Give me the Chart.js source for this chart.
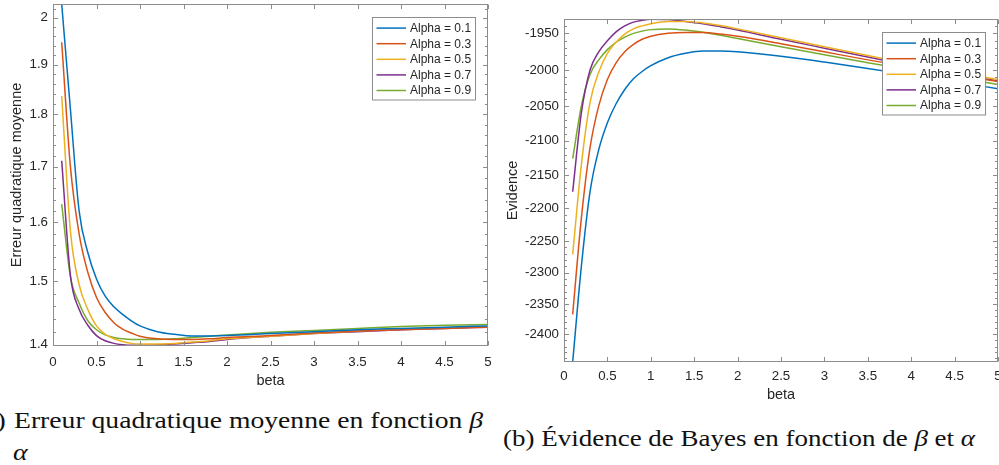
<!DOCTYPE html>
<html>
<head>
<meta charset="utf-8">
<script src="https://cdn.jsdelivr.net/npm/chart.js@4"></script>
<style>
    html, body { margin: 0; padding: 0; background: #fff; overflow: hidden; width: 999px; height: 465px; }
    canvas { position: absolute; top: 0; }
    #mseChart { left: 0; }
    #evChart { left: 500px; }
    .cap { position: absolute; font-family: "Liberation Serif", "Times New Roman", serif; font-size: 23px; line-height: 1; color: #111; white-space: nowrap; transform-origin: 0 0; }
</style>
</head>
<body>
<canvas id="mseChart" width="500" height="395"></canvas>
<canvas id="evChart" width="510" height="410"></canvas>
<span class="cap" id="capA0" style="top:409px">(a)</span>
<span class="cap" id="capA1" style="left:14px;top:409px">Erreur quadratique moyenne en fonction <i>β</i></span>
<span class="cap" id="capA2" style="left:13px;top:441px"><i>α</i></span>
<span class="cap" id="capB" style="left:503px;top:427px">(b) Évidence de Bayes en fonction de <i>β</i> et <i>α</i></span>
<script>
(function () {
    "use strict";

    var betas = [0.1, 0.2, 0.3, 0.4, 0.5, 0.6, 0.7, 0.8, 0.9, 1.0, 1.2, 1.4, 1.6, 1.8, 2.0, 2.5, 3, 3.5, 4, 4.5, 5];
    var alphaLabels = ["Alpha = 0.1", "Alpha = 0.3", "Alpha = 0.5", "Alpha = 0.7", "Alpha = 0.9"];

    // (a) erreur quadratique moyenne
    var mseAlpha01 = [2.03, 1.81, 1.62, 1.548, 1.504, 1.476, 1.459, 1.447, 1.437, 1.429, 1.420, 1.416, 1.4135, 1.4135, 1.414, 1.417, 1.420, 1.423, 1.425, 1.427, 1.429];
    var mseAlpha03 = [1.947, 1.70, 1.58, 1.515, 1.474, 1.450, 1.434, 1.424, 1.418, 1.413, 1.409, 1.408, 1.408, 1.409, 1.411, 1.414, 1.418, 1.421, 1.423, 1.425, 1.427];
    var mseAlpha05 = [1.836, 1.585, 1.495, 1.455, 1.429, 1.416, 1.409, 1.405, 1.402, 1.401, 1.401, 1.402, 1.404, 1.406, 1.409, 1.413, 1.417, 1.421, 1.424, 1.426, 1.428];
    var mseAlpha07 = [1.711, 1.51, 1.455, 1.430, 1.414, 1.406, 1.402, 1.400, 1.399, 1.399, 1.3995, 1.401, 1.403, 1.405, 1.408, 1.413, 1.417, 1.420, 1.423, 1.425, 1.427];
    var mseAlpha09 = [1.632, 1.508, 1.465, 1.437, 1.423, 1.415, 1.411, 1.409, 1.408, 1.408, 1.408, 1.409, 1.411, 1.413, 1.415, 1.419, 1.422, 1.425, 1.428, 1.430, 1.431];
    var mseTicks = [1.4, 1.5, 1.6, 1.7, 1.8, 1.9, 2];

    // (b) evidence de Bayes
    var evAlpha01 = [-2446, -2290, -2175, -2113, -2074, -2047, -2027, -2012, -2002, -1994, -1983, -1977, -1974, -1974, -1975, -1981, -1989, -1998, -2007, -2016, -2026];
    var evAlpha03 = [-2367, -2215, -2110, -2050, -2013, -1990, -1975, -1965, -1958, -1954, -1950, -1948.8, -1949, -1951, -1954, -1964, -1975, -1986, -1996, -2006, -2016];
    var evAlpha05 = [-2271, -2135, -2045, -2003, -1977, -1962, -1951, -1944, -1940, -1937, -1934, -1934, -1936, -1939.5, -1944, -1956, -1968, -1980, -1992, -2003, -2013];
    var evAlpha07 = [-2175, -2060, -2000, -1975, -1960, -1948, -1940, -1935, -1932.5, -1931, -1931.5, -1934, -1937, -1941, -1945.5, -1958, -1970, -1982, -1994, -2005, -2015];
    var evAlpha09 = [-2126, -2050, -2006, -1986, -1972, -1962, -1955, -1950, -1947, -1945, -1944, -1945.5, -1948.5, -1952.5, -1957, -1968, -1979, -1990, -2000, -2010, -2020];
    var evTicks = [-1950, -2000, -2050, -2100, -2150, -2200, -2250, -2300, -2350, -2400];

    var lineColors = ["#0072BD", "#D95319", "#EDB120", "#7E2F8E", "#77AC30"];
    var textColor = "#262626";
    var boxColor = "#8c8c8c";

    Chart.defaults.font.family = "'Liberation Sans', Arial, sans-serif";
    Chart.defaults.color = textColor;

    function makeSets(series, toY) {
        return series.map(function (vals, i) {
            return {
                label: alphaLabels[i],
                data: vals.map(function (v, k) { return { x: betas[k], y: toY(v) }; }),
                borderColor: lineColors[i],
                backgroundColor: lineColors[i],
                borderWidth: 1.5,
                pointRadius: 0,
                fill: false,
                cubicInterpolationMode: "monotone"
            };
        });
    }

    function hline(ctx, x1, y1, x2, y2) {
        ctx.beginPath();
        ctx.moveTo(x1, y1);
        ctx.lineTo(x2, y2);
        ctx.stroke();
    }

    // matlab style box, inward ticks and legend inside the axes
    var matlabBox = {
        id: "matlabBox",
        afterDraw: function (chart, args, opts) {
            var ctx = chart.ctx;
            var a = chart.chartArea;
            var x = chart.scales.x, y = chart.scales.y;
            var L = Math.round(a.left) + 0.5, R = Math.round(a.right) - 0.5;
            var T = Math.round(a.top) + 0.5, B = Math.round(a.bottom) - 0.5;
            ctx.save();
            ctx.strokeStyle = boxColor;
            ctx.lineWidth = 1;
            ctx.strokeRect(L, T, R - L, B - T);
            x.ticks.forEach(function (t) {
                var px = Math.round(x.getPixelForValue(t.value)) + 0.5;
                hline(ctx, px, B, px, B - 4.5);
                hline(ctx, px, T, px, T + 4.5);
            });
            y.ticks.forEach(function (t) {
                var py = Math.round(y.getPixelForValue(t.value)) + 0.5;
                hline(ctx, L, py, L + 4.5, py);
                hline(ctx, R, py, R - 4.5, py);
            });
            opts.minor.forEach(function (v) {
                var py = Math.round(y.getPixelForValue(v)) + 0.5;
                if (py < T || py > B) return;
                hline(ctx, L, py, L + 2.5, py);
                hline(ctx, R, py, R - 2.5, py);
            });

            // legend
            var bw = 103, bh = 82.5;
            var bx = Math.round(a.right - 13 - bw) + 0.5;
            var by = Math.round(a.top + 13) + 0.5;
            ctx.fillStyle = "#fff";
            ctx.fillRect(bx, by, bw, bh);
            ctx.strokeStyle = boxColor;
            ctx.strokeRect(bx, by, bw, bh);
            ctx.font = "12px 'Liberation Sans', Arial, sans-serif";
            ctx.textBaseline = "middle";
            ctx.textAlign = "left";
            chart.data.datasets.forEach(function (ds, i) {
                var ry = by + 10.6 + i * 15.6;
                ctx.strokeStyle = ds.borderColor;
                ctx.lineWidth = 1.5;
                hline(ctx, bx + 4, ry, bx + 33.5, ry);
                ctx.fillStyle = textColor;
                ctx.fillText(ds.label, bx + 37.5, ry + 0.5);
            });
            ctx.restore();
        }
    };

    var tickFont = { size: 13.3 };
    var titleFont = { size: 14.5 };

    var mseMinor = [];
    for (var m = 140; m <= 202; m += 2) mseMinor.push(m / 100);
    var evMinor = [];
    for (var e = 1940; e <= 2440; e += 10) evMinor.push(e);

    function fitX(h) {
        return function (s) { s.height = h; s.paddingLeft = 0; s.paddingRight = 0; };
    }
    function fitY(w) {
        return function (s) { s.width = w; s.paddingTop = 0; s.paddingBottom = 0; };
    }
    function betaLabel(v) {
        return String(Math.round(v * 10) / 10);
    }

    new Chart(document.getElementById("mseChart"), {
        type: "line",
        data: { datasets: makeSets([mseAlpha01, mseAlpha03, mseAlpha05, mseAlpha07, mseAlpha09], function (v) { return v; }) },
        options: {
            responsive: false,
            animation: false,
            layout: { padding: { top: 4, right: 12, left: 0, bottom: 0 } },
            scales: {
                x: {
                    type: "linear",
                    min: 0,
                    max: 5,
                    ticks: { stepSize: 0.5, padding: 8, font: tickFont, color: textColor, maxRotation: 0, callback: betaLabel },
                    grid: { display: false, drawTicks: false },
                    border: { display: false },
                    title: { display: true, text: "beta", font: titleFont, color: textColor, padding: { top: 0, bottom: 5 } },
                    afterFit: fitX(49)
                },
                y: {
                    type: "logarithmic",
                    min: 1.398,
                    max: 2.03,
                    afterBuildTicks: function (s) { s.ticks = mseTicks.map(function (v) { return { value: v }; }); },
                    ticks: { padding: 5, autoSkip: false, font: tickFont, color: textColor, callback: function (v) { return String(v); } },
                    grid: { display: false, drawTicks: false },
                    border: { display: false },
                    title: { display: true, text: "Erreur quadratique moyenne", font: titleFont, color: textColor, padding: { top: 8, bottom: 0 } },
                    afterFit: fitY(53)
                }
            },
            plugins: {
                legend: { display: false },
                tooltip: { enabled: false },
                matlabBox: { minor: mseMinor }
            }
        },
        plugins: [matlabBox]
    });

    new Chart(document.getElementById("evChart"), {
        type: "line",
        data: { datasets: makeSets([evAlpha01, evAlpha03, evAlpha05, evAlpha07, evAlpha09], function (v) { return -v; }) },
        options: {
            responsive: false,
            animation: false,
            layout: { padding: { top: 19, right: 12, left: 0, bottom: 0 } },
            scales: {
                x: {
                    type: "linear",
                    min: 0,
                    max: 5,
                    ticks: { stepSize: 0.5, padding: 6, font: tickFont, color: textColor, maxRotation: 0, callback: betaLabel },
                    grid: { display: false, drawTicks: false },
                    border: { display: false },
                    title: { display: true, text: "beta", font: titleFont, color: textColor, padding: { top: 0, bottom: 6 } },
                    afterFit: fitX(48)
                },
                y: {
                    type: "logarithmic",
                    reverse: true,
                    min: 1930.8,
                    max: 2446,
                    afterBuildTicks: function (s) { s.ticks = evTicks.map(function (v) { return { value: -v }; }); },
                    ticks: { padding: 5, autoSkip: false, font: tickFont, color: textColor, callback: function (v) { return String(-v); } },
                    grid: { display: false, drawTicks: false },
                    border: { display: false },
                    title: { display: true, text: "Evidence", font: titleFont, color: textColor, padding: { top: 4, bottom: 0 } },
                    afterFit: fitY(64)
                }
            },
            plugins: {
                legend: { display: false },
                tooltip: { enabled: false },
                matlabBox: { minor: evMinor }
            }
        },
        plugins: [matlabBox]
    });

    // stretch the serif captions to the width of the reference
    var a1 = document.getElementById("capA1");
    var a0 = document.getElementById("capA0");
    var kA = 469 / a1.getBoundingClientRect().width;
    var w0 = a0.getBoundingClientRect().width;
    a1.style.transform = "scaleX(" + kA + ")";
    a0.style.transform = "scaleX(" + kA + ")";
    a0.style.left = (6 - w0 * kA) + "px";
    document.getElementById("capA2").style.transform = "scaleX(" + kA + ")";
    var b = document.getElementById("capB");
    b.style.transform = "scaleX(" + (472 / b.getBoundingClientRect().width) + ")";
})();
</script>
</body>
</html>
